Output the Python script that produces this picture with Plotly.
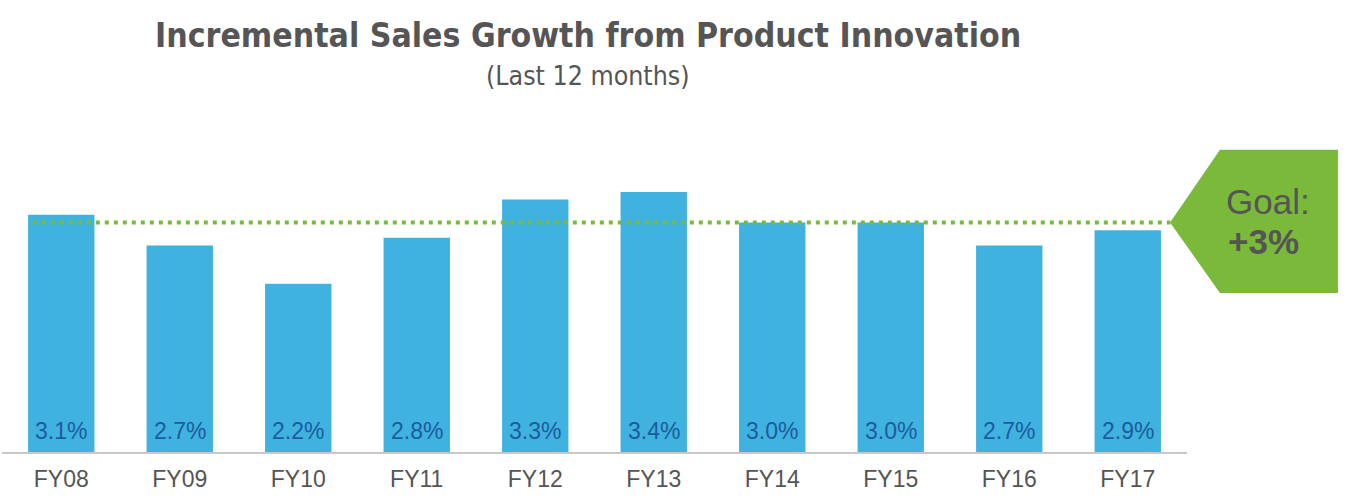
import plotly.graph_objects as go

years = ['FY08', 'FY09', 'FY10', 'FY11', 'FY12', 'FY13', 'FY14', 'FY15', 'FY16', 'FY17']
growth = [3.1, 2.7, 2.2, 2.8, 3.3, 3.4, 3.0, 3.0, 2.7, 2.9]
labels = ['3.1%', '2.7%', '2.2%', '2.8%', '3.3%', '3.4%', '3.0%', '3.0%', '2.7%', '2.9%']
goal = 3.0

grey = '#555555'
green = '#7AB93A'
font = 'Liberation Sans, Arial, sans-serif'
narrow = 'DejaVu Sans Condensed, Liberation Sans Narrow, sans-serif'

fig = go.Figure()
fig.add_trace(go.Bar(x=years, y=growth, marker=dict(color='#40B2E0', line=dict(width=0)),
                     hoverinfo='x+y'))

# value labels sitting at the bottom of each bar
for yr, lab in zip(years, labels):
    fig.add_annotation(x=yr, y=0, yref='y', text=lab, showarrow=False,
                       yanchor='bottom', yshift=6,
                       font=dict(family=font, size=23, color='#1B5C9C'))

# dotted goal line
fig.add_shape(type='line', xref='paper', yref='y', x0=0.026, x1=0.986, y0=goal, y1=goal,
              line=dict(color=green, width=4, dash='4px,5px'))

# goal callout arrow box
fig.add_shape(type='path', xref='paper', yref='y',
              path='M 0.9857 3.0 L 1.0278 3.95 L 1.1274 3.95 L 1.1274 2.08 L 1.0278 2.08 Z',
              fillcolor=green, line=dict(width=0), layer='above')
fig.add_annotation(x=1.0685, xref='paper', y=3.28, yref='y', text='Goal:', showarrow=False,
                   xanchor='center', font=dict(family=font, size=35, color=grey))
fig.add_annotation(x=1.0645, xref='paper', y=2.75, yref='y', text='<b>+3%</b>', showarrow=False,
                   xanchor='center', font=dict(family=font, size=35, color=grey))

# title and subtitle
fig.add_annotation(x=0.4945, xref='paper', y=1, yref='paper', yanchor='bottom', yshift=89,
                   xanchor='center', text='<b>Incremental Sales Growth from Product Innovation</b>',
                   showarrow=False, font=dict(family=narrow, size=33.5, color=grey))
fig.add_annotation(x=0.4945, xref='paper', y=1, yref='paper', yanchor='bottom', yshift=53,
                   xanchor='center', text='(Last 12 months)', showarrow=False,
                   font=dict(family=narrow, size=26.5, color=grey))

fig.update_layout(
    width=1346, height=504,
    margin=dict(l=2, r=159, t=146, b=52),
    paper_bgcolor='white', plot_bgcolor='white',
    showlegend=False,
    bargap=0.44,
    xaxis=dict(showline=True, linecolor='#C8C8C8', linewidth=1.5, ticks='',
               tickfont=dict(family=font, size=23, color=grey), ticklabelstandoff=6,
               range=[-0.5, 9.5], fixedrange=True),
    yaxis=dict(range=[0, 4.0], visible=False, showgrid=False, zeroline=False, fixedrange=True),
)

fig.write_html('out.html', config={'displayModeBar': False},
               post_script="document.body.style.margin='0';")
